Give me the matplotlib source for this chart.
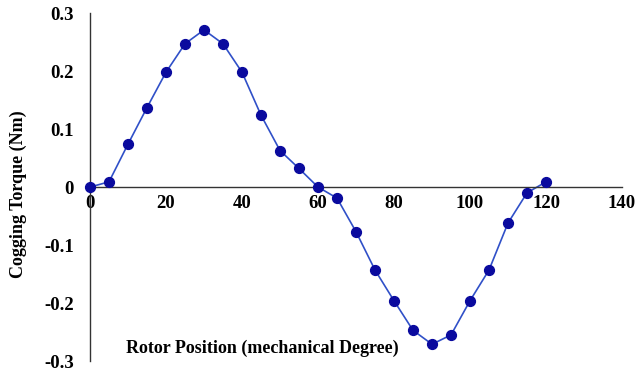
import matplotlib
matplotlib.use("Agg")
import matplotlib.pyplot as plt

# rotor position (deg) and cogging torque (Nm)
position = [0, 5, 10, 15, 20, 25, 30, 35, 40, 45, 50, 55, 60,
            65, 70, 75, 80, 85, 90, 95, 100, 105, 110, 115, 120]
torque = [0.0, 0.009, 0.074, 0.137, 0.198, 0.247, 0.271, 0.247, 0.198, 0.124, 0.063, 0.032, 0.0,
          -0.019, -0.077, -0.143, -0.196, -0.247, -0.271, -0.255, -0.196, -0.143, -0.062, -0.010, 0.009]

x_ticks = [0, 20, 40, 60, 80, 100, 120, 140]
y_ticks = [-0.3, -0.2, -0.1, 0, 0.1, 0.2, 0.3]
y_labels = ['-0.3', '-0.2', '-0.1', '0', '0.1', '0.2', '0.3']

plt.rcParams['font.family'] = ['Liberation Serif', 'DejaVu Serif']
plt.rcParams['font.weight'] = 'bold'

fig = plt.figure(figsize=(6.36, 3.73), dpi=100)
ax = fig.add_axes([0.1415, 0.032, 0.8365, 0.933])

ax.plot(position, torque, color='#3050c8', lw=1.2, zorder=2)
ax.scatter(position, torque, s=50, color='#0a0a9e', zorder=3, clip_on=False)

ax.set_xlim(0, 140)
ax.set_ylim(-0.3, 0.3)

ax.spines['top'].set_visible(False)
ax.spines['right'].set_visible(False)
ax.spines['bottom'].set_position(('data', 0))
for s in ('left', 'bottom'):
    ax.spines[s].set_color('#333333')
    ax.spines[s].set_linewidth(1.0)

ax.set_xticks(x_ticks)
ax.set_xticklabels([str(t) for t in x_ticks], fontsize=13.5, fontweight='bold')
ax.set_yticks(y_ticks)
ax.set_yticklabels(y_labels, fontsize=13.5, fontweight='bold')
ax.tick_params(axis='x', length=0, pad=6)
ax.tick_params(axis='y', length=0, pad=11.5)

fig.text(0.029, 0.48, 'Cogging Torque (Nm)', rotation=90, ha='center', va='center',
         fontsize=13, fontweight='bold')
ax.text(45.4, -0.278, 'Rotor Position (mechanical Degree)', ha='center', va='center',
        fontsize=13, fontweight='bold')

fig.savefig('out.png', dpi=100)
